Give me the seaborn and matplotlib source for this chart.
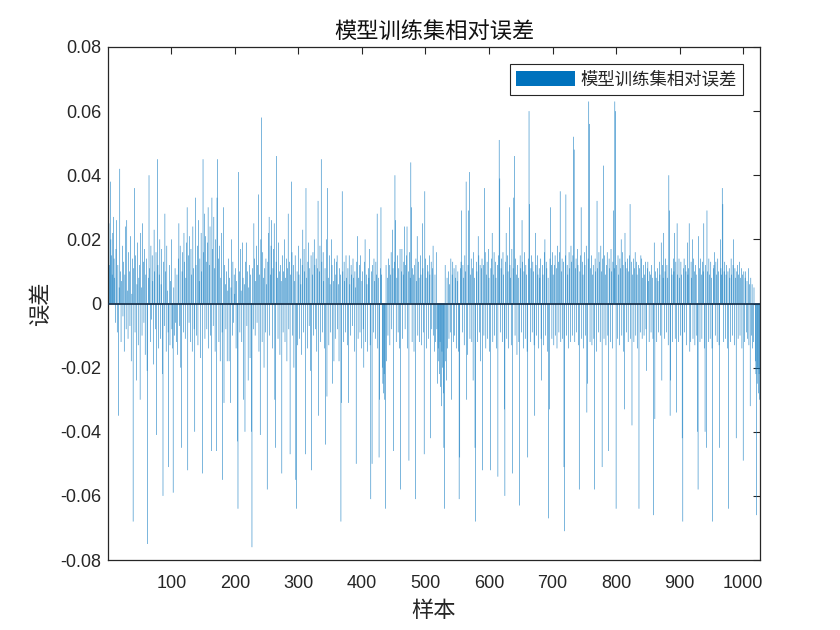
import numpy as np
import pandas as pd
import matplotlib
matplotlib.use('Agg')
import matplotlib.pyplot as plt
import seaborn as sns
from matplotlib.patches import Patch

# -----------------------------
# Data (relative error, in units of 0.001)
# -----------------------------
err_milli = [
    18, 25, 12, 38, 20, 15, 9, 22, 27, 14,
    8, -6, 17, 26, -9, 12, -35, 5, 42, 10,
    -12, 7, 18, -4, 13, -15, 9, 24, -8, 26,
    4, -11, 16, 10, -7, 21, -18, 3, 14, -68,
    11, 36, -9, 15, -24, 6, 19, -13, 8, 12,
    -30, 22, 5, -10, 25, 13, -6, 17, -16, 9,
    14, -21, -75, 8, 40, 11, -12, 18, -5, 15,
    7, -19, 23, 10, -8, 16, -41, 45, 12, -14,
    9, 20, -11, 6, 17, -22, -60, 13, -7, 28,
    10, -15, 18, 4, -9, -51, 12, -13, 7, 20,
    -8, -14, -59, 5, -10, 11, -6, -12, 9, -16,
    14, 25, -7, 18, -20, -45, 10, 16, -9, 22,
    13, -11, 8, 19, 30, -52, 15, -6, 21, -12,
    17, 9, -15, 24, 11, -8, -40, 33, 12, -10,
    18, -13, 26, 7, 14, -17, 22, 10, -53, 45,
    16, 28, -11, 21, 13, -8, 19, 30, -14, 12,
    24, -10, -46, 33, 17, -7, 27, 11, -15, 20,
    -46, 33, 45, 14, -12, 18, -18, 8, 22, -9,
    -55, 30, -31, 12, 6, -8, 10, -18, 4, 14,
    -18, 8, -31, 5, 20, -10, 13, -6, 9, 3,
    11, -14, 7, -43, -64, 41, 10, -9, 17, 4,
    -12, 19, 8, -30, 6, -40, 13, 19, -7, 10,
    -24, 5, 12, -17, 9, -40, -76, 11, -8, 25,
    14, -10, 7, 18, -6, 12, 34, -15, 9, -41,
    20, 58, -12, 16, 8, -20, 11, -9, 14, 6,
    -58, 13, 22, 27, -10, 9, 18, 26, -14, 11,
    17, 25, -30, -45, 13, 46, 8, -11, 19, 10,
    -16, 12, 7, -53, 15, -9, 10, 20, -12, 8,
    14, -18, 11, 28, -8, 13, -47, 9, 38, 16,
    -10, 12, -20, 7, 15, -55, -64, 10, -13, 18,
    9, -11, 14, 6, -16, 12, 23, -9, 17, 10,
    -47, 36, 8, -14, 13, 19, -7, 11, -21, 15,
    -52, 9, 16, -10, 20, 12, -8, 14, -15, 11,
    32, -35, 10, 18, -12, 45, 13, -9, 16, 7,
    -14, 11, -44, 20, -29, 36, 8, -13, 15, 6,
    -9, 20, 12, -25, 7, -18, 14, -11, 9, 13,
    15, -8, 6, -18, 11, 9, -68, -31, 35, 10,
    -12, 13, 7, -9, 15, 8, -13, 11, -31, 15,
    6, -10, 12, 9, -7, 14, 8, -15, 10, 5,
    -50, 13, 21, -11, 8, 12, -9, 15, -14, 7,
    10, -8, -20, 13, 20, -12, 9, 6, -15, 11,
    8, 17, -13, -61, 10, -50, 12, -9, 14, 7,
    -11, 13, 9, 28, -14, 8, -48, -30, 11, 30,
    9, -20, -25, -28, -22, -30, -64, 12, -18, 8,
    -10, 14, 12, -13, 9, 16, -8, 23, 11, -46,
    13, 40, 26, -12, 8, 15, -9, 11, -14, 17,
    -58, 10, 17, -11, 9, 13, 24, -8, 12, 15,
    24, -14, 10, -49, 16, 8, 44, 30, -12, 11,
    9, -15, 12, -61, 14, 7, 21, -10, 13, 8,
    -12, 15, 9, -13, 25, 11, -9, -47, 35, 14,
    8, -14, 12, 10, -11, 15, 9, -42, 13, -8,
    11, 18, -10, -15, 9, -12, 16, -8, -25, -14,
    -18, -22, -12, -26, -32, -15, -20, -28, -45, -64,
    12, -18, -24, 8, -14, 10, -11, 6, -9, 14,
    -30, 9, 13, -12, 11, -10, 8, 12, -14, 7,
    10, -15, -61, -48, 11, 13, 29, -9, 12, 8,
    -13, 15, 10, 38, -30, -16, 12, 29, 41, -11,
    9, 14, -12, 11, -24, 16, 8, -45, -68, 13,
    10, -12, 21, 15, -9, 12, -18, 11, 14, -52,
    12, -10, 36, 16, -14, 9, 13, -11, 17, 8,
    -15, -52, 11, 14, 22, -12, 9, 16, -10, 13,
    8, -14, 12, -54, 15, 51, 39, -9, 11, 14,
    -12, 16, 9, -33, -60, 13, 22, -11, 15, 10,
    -14, 30, 12, 8, -13, 17, -53, 11, 33, 46,
    -10, 14, 9, -16, 12, 8, -12, -63, 15, 11,
    -9, 26, 13, -14, 10, 16, -11, 12, 9, -15,
    -48, 14, 60, 31, -12, 11, 15, -9, 13, 10,
    -13, -35, 22, 12, -10, 15, 9, -14, 11, 8,
    14, -11, -24, 12, 9, -13, 16, 20, -10, 13,
    11, -15, 8, -67, -33, 14, 30, 12, -11, 16,
    9, -13, 12, 15, -10, 11, -14, 18, 13, -9,
    16, 35, -12, 10, 14, -11, 13, -51, -71, 15,
    34, -10, 12, 9, -14, 16, 11, -12, 18, 13,
    -10, 15, 52, 48, -12, 11, 14, -9, 17, 12,
    -13, -58, 10, 15, 30, -11, 13, 9, -14, 16,
    12, -10, 18, -34, -25, 14, 63, 56, -12, 11,
    15, -13, 9, 12, -11, -58, 14, 10, -15, 32,
    11, -9, 16, 13, -12, 18, 10, -51, 14, 43,
    -11, 15, 9, -13, 12, 16, -10, -46, 14, 11,
    -12, 17, 10, -14, 13, 29, 11, 63, 60, -64,
    12, -11, 15, 9, -13, 14, 11, 20, -10, 16,
    12, -15, -33, 22, 13, -9, 11, 14, -12, 10,
    15, 31, -11, 13, -38, 9, 14, -12, 11, 16,
    -10, 13, 9, -14, 12, -64, 11, -9, 15, 14,
    -11, 8, 12, -10, 9, 13, -8, -21, 11, 13,
    7, -12, 10, 9, -9, 12, 8, -11, -66, 19,
    -36, 10, 8, -12, 11, 7, -9, 13, 9, -10,
    19, -24, 12, 8, 22, -11, 10, 14, -9, 12,
    8, -13, 40, 29, -35, -24, 11, 9, -12, 14,
    10, 22, -11, 13, -34, 25, 9, -12, 14, 8,
    -10, 13, 9, -42, -68, 11, 14, -9, 12, 10,
    -13, 19, 9, 11, 25, -15, -12, 13, 8, 20,
    -11, 14, 10, -13, 12, 9, -10, -40, -58, 21,
    11, -12, 14, 9, -11, 13, 10, 25, -14, -40,
    12, -45, 29, 10, -12, 14, 9, -11, 13, 8,
    -14, -68, 11, 12, 16, -10, 13, 9, -12, 14,
    10, -13, -45, 20, 11, 9, 36, 31, -12, 10,
    13, -11, 9, 12, -14, 10, -64, 11, 8, -12,
    14, 9, -10, 12, 20, -13, 11, 8, -42, 10,
    12, -11, 9, 13, -10, 8, 11, -14, 9, -49,
    10, -12, 8, 10, -9, 7, -11, 11, -13, 6,
    -32, 8, -10, 6, -14, -12, 5, 0, -18, -22,
    -66, -25, -20, -28, -22, -30,
]
errors = np.array(err_milli) / 1000.0
samples = np.arange(1, len(errors) + 1)

x_ticks = [100, 200, 300, 400, 500, 600, 700, 800, 900, 1000]
y_ticks = [-0.08, -0.06, -0.04, -0.02, 0, 0.02, 0.04, 0.06, 0.08]
y_tick_labels = ['-0.08', '-0.06', '-0.04', '-0.02', '0', '0.02', '0.04', '0.06', '0.08']

title_text = '模型训练集相对误差'
legend_text = '模型训练集相对误差'
bar_color = '#0072BD'

df = pd.DataFrame({'样本': samples, '误差': errors})

# -----------------------------
# Plot
# -----------------------------
sns.set_style('white')
plt.rcParams['font.family'] = ['Liberation Sans', 'Noto Sans CJK SC', 'DejaVu Sans']
cjk = ['Noto Sans CJK SC', 'DejaVu Sans']

fig = plt.figure(figsize=(8.4, 6.3), dpi=100)
ax = fig.add_axes([0.1286, 0.1111, 0.7762, 0.8143])

sns.barplot(data=df, x='样本', y='误差', native_scale=True, color=bar_color,
            saturation=1, width=0.8, errorbar=None, edgecolor='none',
            linewidth=0, ax=ax)
# thin bars: let them antialias softly like the reference instead of snapping
for p in ax.patches:
    p.set_snap(False)

# baseline
ax.axhline(0, color='#1b3550', lw=1.3, zorder=5)

ax.set_xlim(0.5, len(errors) + 0.5)
ax.set_ylim(-0.08, 0.08)
ax.set_xticks(x_ticks)
ax.set_xticklabels([str(t) for t in x_ticks])
ax.set_yticks(y_ticks)
ax.set_yticklabels(y_tick_labels)
ax.tick_params(direction='in', top=True, right=True, length=5, width=0.8,
               color='#262626', labelsize=13, labelcolor='#262626')
ax.tick_params(axis='x', pad=11)
ax.tick_params(axis='y', pad=5)

for sp in ax.spines.values():
    sp.set_color('#262626')
    sp.set_linewidth(0.9)

ax.set_title(title_text, fontsize=16, family=cjk, color='#111111', pad=6)
ax.set_xlabel('样本', fontsize=16, family=cjk, color='#262626', labelpad=5)
ax.set_ylabel('误差', fontsize=16, family=cjk, color='#262626', labelpad=6)

handle = Patch(facecolor=bar_color, edgecolor='none', label=legend_text)
leg = ax.legend(handles=[handle], loc='upper right', fancybox=False,
                framealpha=1, edgecolor='#262626', handlelength=3.4,
                handleheight=0.9, borderpad=0.35, handletextpad=0.3,
                borderaxespad=1.0, prop={'family': cjk, 'size': 12.5})
leg.get_frame().set_linewidth(0.8)

fig.savefig('out.png', dpi=100)
